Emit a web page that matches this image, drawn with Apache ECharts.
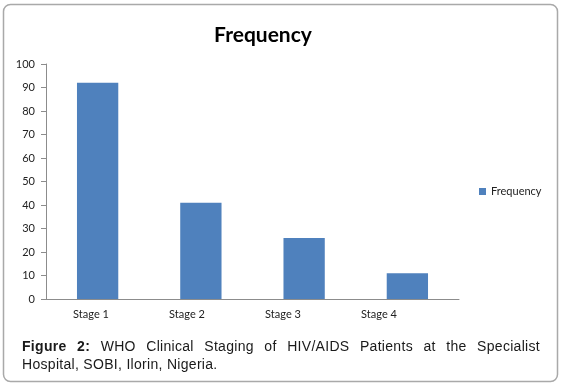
<!DOCTYPE html>
<html>
<head>
<meta charset="utf-8">
<script src="https://cdn.jsdelivr.net/npm/echarts@6/dist/echarts.min.js"></script>
<style>
  html, body { margin: 0; padding: 0; background: #fff; }
  #wrap { position: relative; width: 562px; height: 389px; }
  #chart { position: absolute; left: 0; top: 0; width: 562px; height: 389px; }
  #caption {
    position: absolute; left: 22px; top: 337px; width: 518px;
    font-family: "Liberation Sans", Arial, sans-serif; font-size: 14px; line-height: 18px;
    letter-spacing: 0.3px; color: #1a1a1a;
  }
  #caption .l1 { text-align: justify; text-align-last: justify; white-space: normal; }
  #caption .l2 { text-align: left; }
</style>
</head>
<body>
<div id="wrap">
  <div id="chart"></div>
  <div id="caption">
    <div class="l1"><b>Figure 2:</b> WHO Clinical Staging of HIV/AIDS Patients at the Specialist</div>
    <div class="l2">Hospital, SOBI, Ilorin, Nigeria.</div>
  </div>
</div>
<script>
var stages = ['Stage 1', 'Stage 2', 'Stage 3', 'Stage 4'];
var frequency = [92, 41, 26, 11];
var seriesName = 'Frequency';

var myChart = echarts.init(document.getElementById('chart'));

var axisGrey = '#8c8c8c';
var labelFont = { fontFamily: 'Lato', fontSize: 11, color: '#222' };

var option = {
  animation: false,
  title: {
    text: 'Frequency',
    left: 258, top: 20, textAlign: 'center',
    textStyle: { fontFamily: 'Lato', fontWeight: 'bold', fontSize: 21, color: '#000' }
  },
  legend: {
    data: [seriesName],
    left: 474, top: 181,
    itemWidth: 7, itemHeight: 7, itemGap: 5,
    icon: 'rect',
    textStyle: labelFont
  },
  grid: [
    { left: 46, right: 103, top: 64, bottom: 90, containLabel: false },
    // labels in the original sit slightly left of the bar slots
    { left: 43, width: 384, top: 64, bottom: 90, containLabel: false }
  ],
  xAxis: [{
    type: 'category',
    data: stages,
    axisLine: { lineStyle: { color: axisGrey } },
    axisTick: { length: 5, lineStyle: { color: axisGrey } },
    axisLabel: { show: false }
  }, {
    type: 'category',
    gridIndex: 1,
    data: stages,
    axisLine: { show: false },
    axisTick: { show: false },
    axisLabel: Object.assign({ margin: 10 }, labelFont)
  }],
  yAxis: [{
    type: 'value',
    min: 0, max: 100, interval: 10,
    axisLine: { show: true, lineStyle: { color: axisGrey } },
    axisTick: { show: true, length: 5, lineStyle: { color: axisGrey } },
    splitLine: { show: false },
    axisLabel: Object.assign({ margin: 11 }, labelFont)
  }, {
    type: 'value',
    gridIndex: 1,
    min: 0, max: 100,
    show: false
  }],
  graphic: [{
    type: 'rect',
    shape: { x: 3.5, y: 4.5, width: 554, height: 377, r: 7 },
    style: { fill: 'none', stroke: '#a9a9a9', lineWidth: 1.5 },
    silent: true, z: -1
  }],
  series: [{
    name: seriesName,
    type: 'bar',
    data: frequency,
    barWidth: '40%',
    itemStyle: { color: '#4f81bd' }
  }]
};

myChart.setOption(option);
</script>
</body>
</html>
